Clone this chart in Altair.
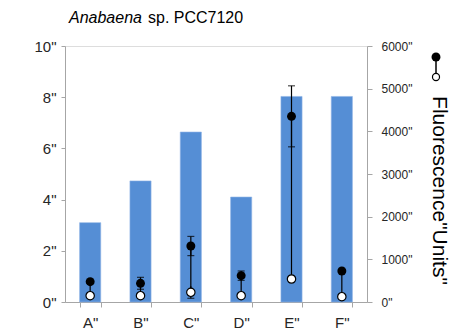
import altair as alt
import pandas as pd

# Strain samples, growth bars (left axis) and fluorescence dumbbells (right axis)
categories = ["A", "B", "C", "D", "E", "F"]
bar_values = [3.1, 4.73, 6.64, 4.1, 8.03, 8.03]
filled_values = [476, 438, 1312, 617, 4352, 727]
filled_errors = [0, 140, 225, 110, 715, 0]
open_values = [148, 148, 227, 148, 539, 125]
open_errors = [0, 0, 140, 0, 0, 0]

df = pd.DataFrame({
    "cat": categories,
    "bar": bar_values,
    "f": filled_values,
    "fe": filled_errors,
    "o": open_values,
    "oe": open_errors,
})
df["f_lo"] = df["f"] - df["fe"]
df["f_hi"] = df["f"] + df["fe"]
df["o_lo"] = df["o"] - df["oe"]
df["o_hi"] = df["o"] + df["oe"]

FONT = "Liberation Sans"
AXIS_GREY = "#a6a6a6"
LABEL = "#262626"
quote_expr = "datum.label ? datum.label + '\"' : ''"

x_enc = alt.X(
    "cat:N",
    sort=categories,
    scale=alt.Scale(paddingInner=0.58, paddingOuter=0.29),
    axis=alt.Axis(
        title=None, labelAngle=0, labelExpr=quote_expr, tickBand="extent",
        labelFontSize=15, labelFont=FONT, labelColor=LABEL, labelPadding=8,
        domainColor=AXIS_GREY, tickColor=AXIS_GREY, tickSize=5,
    ),
)

bars = alt.Chart(df).mark_bar(color="#558ed5", stroke="#8fb3e6", strokeWidth=0.6).encode(
    x=x_enc,
    y=alt.Y(
        "bar:Q",
        scale=alt.Scale(domain=[0, 10]),
        axis=alt.Axis(
            title=None, values=[0, 2, 4, 6, 8, 10], labelExpr=quote_expr, grid=False,
            labelFontSize=15, labelFont=FONT, labelColor=LABEL, labelPadding=5,
            domainColor=AXIS_GREY, tickColor=AXIS_GREY, tickSize=4,
        ),
    ),
)

right_axis = alt.Axis(
    orient="right", values=[0, 1000, 2000, 3000, 4000, 5000, 6000], format="d",
    labelExpr=quote_expr,
    grid=False, labelFontSize=12, labelFont=FONT, labelColor=LABEL, labelPadding=9,
    domainColor=AXIS_GREY, tickColor=AXIS_GREY, tickSize=5,
    title='Fluorescence"Units"', titleAngle=90, titleFont=FONT, titleFontSize=21,
    titleFontWeight="normal", titleColor="#000000", titleX=71, titleY=144,
    titleAlign="center", titleBaseline="middle",
)
y_scale = alt.Scale(domain=[0, 6000])


def yr(field):
    return alt.Y(field, type="quantitative", scale=y_scale, axis=right_axis)


base = alt.Chart(df)
connector = base.mark_rule(color="black", strokeWidth=1.2).encode(x="cat:N", y=yr("f"), y2="o")
f_err = base.transform_filter("datum.fe > 0").mark_rule(color="black", strokeWidth=1.2).encode(
    x="cat:N", y=yr("f_lo"), y2="f_hi")
f_cap_lo = base.transform_filter("datum.fe > 0").mark_tick(
    color="black", orient="horizontal", size=7, thickness=1.2).encode(x="cat:N", y=yr("f_lo"))
f_cap_hi = base.transform_filter("datum.fe > 0").mark_tick(
    color="black", orient="horizontal", size=7, thickness=1.2).encode(x="cat:N", y=yr("f_hi"))
o_err = base.transform_filter("datum.oe > 0").mark_rule(color="black", strokeWidth=1.2).encode(
    x="cat:N", y=yr("o_lo"), y2="o_hi")
o_cap_lo = base.transform_filter("datum.oe > 0").mark_tick(
    color="black", orient="horizontal", size=7, thickness=1.2).encode(x="cat:N", y=yr("o_lo"))
open_pts = base.mark_point(shape="circle", filled=True, fill="white", stroke="black",
                           strokeWidth=1.2, size=70, opacity=1).encode(x="cat:N", y=yr("o"))
filled_pts = base.mark_point(shape="circle", filled=True, color="black", size=80,
                             opacity=1).encode(x="cat:N", y=yr("f"))

fluor = alt.layer(connector, f_err, f_cap_lo, f_cap_hi, o_err, o_cap_lo, open_pts, filled_pts)

# Series key glyph above the right-hand axis title
one = pd.DataFrame({"k": [0]})
key_line = alt.Chart(one).mark_rule(color="black", strokeWidth=1.5).encode(
    x=alt.value(371), y=alt.value(11), y2=alt.value(30))
key_filled = alt.Chart(one).mark_point(shape="circle", filled=True, color="black",
                                       size=80, opacity=1).encode(x=alt.value(371), y=alt.value(11))
key_open = alt.Chart(one).mark_point(shape="circle", filled=True, fill="white", stroke="black",
                                     strokeWidth=1.2, size=50, opacity=1).encode(
    x=alt.value(371), y=alt.value(31))

# Title: italic genus followed by upright strain name
title_genus = alt.Chart(one).mark_text(
    text="Anabaena", font=FONT, fontSize=16, fontStyle="italic", align="left",
    baseline="alphabetic", color="black").encode(x=alt.value(4), y=alt.value(-23))
title_rest = alt.Chart(one).mark_text(
    text="sp. PCC7120", font=FONT, fontSize=16, align="left",
    baseline="alphabetic", color="black").encode(x=alt.value(83), y=alt.value(-23))

chart = alt.layer(
    bars, fluor, key_line, key_filled, key_open, title_genus, title_rest
).resolve_scale(y="independent").properties(
    width=302,
    height=256,
    autosize=alt.AutoSizeParams(type="none"),
    padding={"left": 65, "top": 46, "right": 95, "bottom": 33},
).configure_view(stroke=None).configure(background="white")

chart.save("out.html", embed_options={"renderer": "svg", "actions": False})
